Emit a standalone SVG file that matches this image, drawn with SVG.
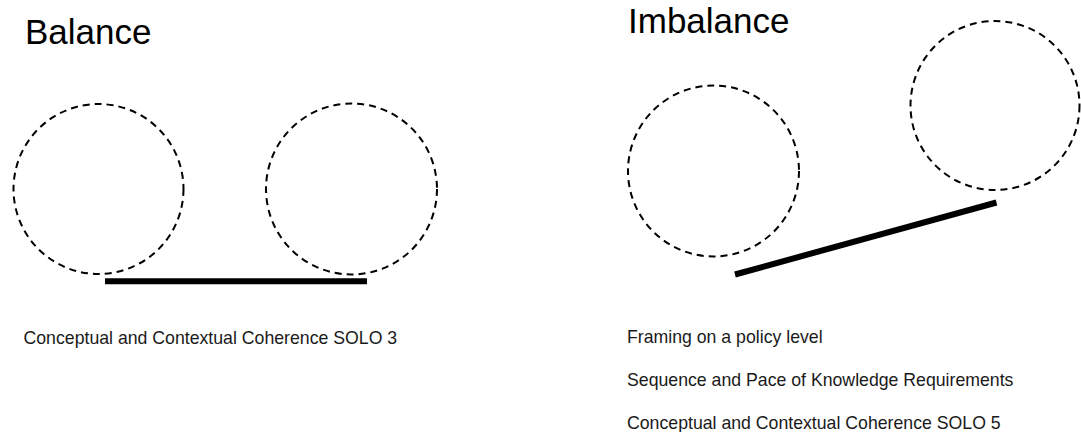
<svg xmlns="http://www.w3.org/2000/svg" width="1081" height="432" viewBox="0 0 1081 432">
<style>
.title{font-family:"Liberation Sans",Arial,sans-serif;font-size:35px;fill:#000}
.lbl{font-family:"Liberation Sans",Arial,sans-serif;font-size:17.7px;fill:#1a1a1a}
.c{fill:none;stroke:#000;stroke-width:2;stroke-dasharray:7 5}
.bar{stroke:#000;stroke-width:6;fill:none}
</style>
<rect width="1081" height="432" fill="#fff"/>
<g id="balance-title"><text class="title" x="25" y="44">Balance</text></g>
<g id="balance-left"><circle class="c" cx="98.5" cy="189" r="85"/></g>
<g id="balance-right"><circle class="c" cx="351.5" cy="189" r="85.5"/></g>
<g id="imbalance-title"><text class="title" x="628" y="33">Imbalance</text></g>
<g id="imbalance-left"><circle class="c" cx="713.5" cy="171" r="85.5"/></g>
<g id="imbalance-right"><circle class="c" cx="995" cy="105.5" r="84.5"/></g>
<g id="connectors">
<line class="bar" x1="105" y1="281.3" x2="367" y2="281.3"/>
<line class="bar" x1="735" y1="274.5" x2="996.5" y2="202.5"/>
</g>
<g id="labels">
<text class="lbl" x="23.5" y="344">Conceptual and Contextual Coherence SOLO 3</text>
<text class="lbl" x="627" y="343.3">Framing on a policy level</text>
<text class="lbl" x="627" y="386">Sequence and Pace of Knowledge Requirements</text>
<text class="lbl" x="627" y="429.3">Conceptual and Contextual Coherence SOLO 5</text>
</g>
</svg>
